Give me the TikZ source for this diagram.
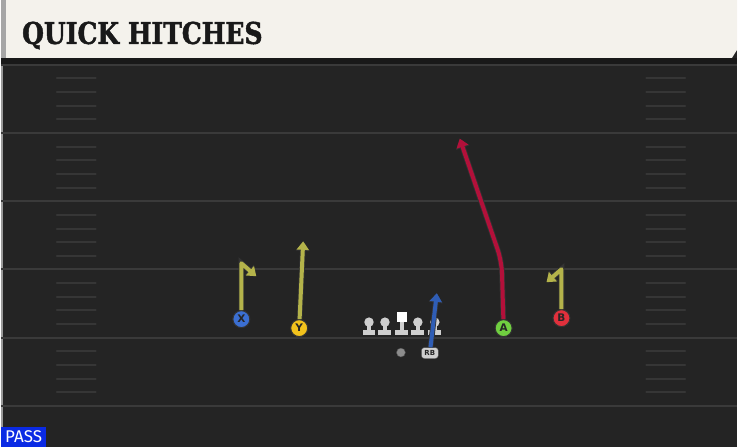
\documentclass[tikz,border=0pt]{standalone}
\usepackage{fontspec}
\usetikzlibrary{positioning,arrows.meta}
\newfontfamily\titlefont{DejaVu Serif Condensed}[BoldFeatures={FakeBold=1.6}]
\newfontfamily\tagfont{DejaVu Sans}
\newfontfamily\passfont{Fira Sans}
\definecolor{field}{HTML}{242424}
\definecolor{yardline}{HTML}{3A3A3A}
\definecolor{hashmark}{HTML}{363636}
\definecolor{header}{HTML}{F4F2EC}
\definecolor{routeyellow}{HTML}{B4B34A}
\definecolor{routered}{HTML}{B3103A}
\definecolor{routeblue}{HTML}{2F5DB5}
\definecolor{xblue}{HTML}{3B6FD2}
\definecolor{yyellow}{HTML}{F2C21C}
\definecolor{agreen}{HTML}{70CF40}
\definecolor{bred}{HTML}{E0303C}
\definecolor{passblue}{HTML}{0A2AE4}
\definecolor{lineman}{HTML}{CFCFCF}

\begin{document}
\begin{tikzpicture}[x=1pt,y=-1pt]
 \tikzset{route/.style={line width=4pt,line join=round,-{Triangle[width=12pt,length=8.5pt]},
   preaction={draw=black!80,line width=5.6pt,-{Triangle[width=13.5pt,length=9.5pt]}}},
   player/.style={circle,draw=black!80,line width=1pt,minimum size=17pt,inner sep=0pt,
   font=\tagfont\bfseries\fontsize{10.5}{10.5}\selectfont,text=black!85},
   head/.style={circle,fill=lineman,minimum size=9.5pt,inner sep=0pt}}
 % field
 \fill[field] (0,0) rectangle (738,448);
 \fill[black!40] (0,64) rectangle (2,448);
 \foreach \y in {65,133.4,201.8,270.2,338.6,407}
   \draw[yardline,line width=2pt] (0,\y) -- (738,\y);
 \foreach \y in {65,133.4,201.8,270.2,338.6}
   \foreach \k in {1,2,3,4} {
     \draw[hashmark,line width=2pt,line cap=round] (56,\y+13.68*\k) -- (95,\y+13.68*\k);
     \draw[hashmark,line width=2pt,line cap=round] (647,\y+13.68*\k) -- (686,\y+13.68*\k);
   }
 % header
 \fill[black!90] (0,58) rectangle (738,64);
 \fill[header] (0,0) -- (738,0) -- (738,50) -- (733,58) -- (0,58) -- cycle;
 \fill[black!35] (0,0) rectangle (5,58);
 \node[anchor=base west,inner sep=0pt,text=black!90,
   font=\titlefont\bfseries\fontsize{30}{30}\selectfont] (title) at (21,44) {\scalebox{0.93}[1]{QUICK HITCHES}};
 \node[anchor=south west,fill=passblue,text=white,inner sep=0pt,minimum width=45pt,
   minimum height=20pt,font=\passfont\fontsize{17}{17}\selectfont] (pass) at (0,448) {PASS};

 % offensive line
 \foreach \n/\x in {lt/369,lg/385,rg/418,rt/435} {
   \fill[lineman] (\x-2,323) rectangle (\x+2,332);
   \fill[lineman] (\x-6.5,330.5) rectangle (\x+6.5,336);
   \node[head] (\n) at (\x,323) {};
 }
 \fill[lineman] (400,320) rectangle (404,332);
 \fill[lineman] (395.5,330.5) rectangle (408.5,336);
 \node[fill=white,minimum size=9.5pt,inner sep=0pt] (c) at (402,318) {};
 \node[circle,fill=black!45,draw=black!70,minimum size=9pt,inner sep=0pt] (qb) at (401,353.5) {};
 \node[rounded corners=3pt,fill=lineman,draw=black!70,minimum width=17pt,minimum height=11pt,
   inner sep=0pt,font=\tagfont\bfseries\fontsize{7}{7}\selectfont,text=black!85] (rb) at (430,354) {RB};

 % receivers
 \node[player,fill=xblue] (X) at (241,320) {X};
 \node[player,fill=yyellow] (Y) at (299,329) {Y};
 \node[player,fill=agreen] (A) at (504,329) {A};
 \node[player,fill=bred] (B) at (562,319) {B};

 % routes
 \coordinate (xstem) at (241,264);
 \coordinate (xend) at (256,277);
 \coordinate (yend) at (303,242);
 \coordinate (aturn) at (502,262);
 \coordinate (aend) at (460,139);
 \coordinate (bstem) at (562,270);
 \coordinate (bend) at (547,283);
 \coordinate (rbend) at (437,294);
 \draw[route,routeblue] (rb) -- (rbend);
 \draw[route,routeyellow] (X) -- (xstem) -- (xend);
 \draw[route,routeyellow] (Y) -- (yend);
 \draw[route,routered,rounded corners=12pt] (A) -- (aturn) -- (aend);
 \draw[route,routeyellow] (B) -- (bstem) -- (bend);
\end{tikzpicture}
\end{document}
